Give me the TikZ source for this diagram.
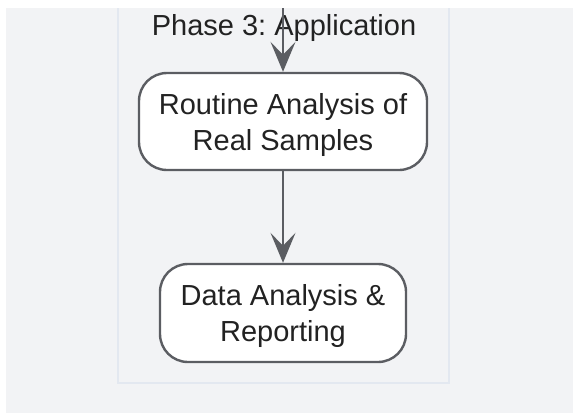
\documentclass[tikz,border=0pt]{standalone}
\usepackage{fontspec}
\setmainfont{Liberation Sans}
\usetikzlibrary{arrows.meta}
\frenchspacing
\definecolor{bggray}{HTML}{F2F3F5}
\definecolor{clusterline}{HTML}{E3E8F0}
\definecolor{edgegray}{HTML}{5B5D62}
\definecolor{txt}{HTML}{222222}
\newcommand{\lowered}[1]{\raisebox{-3.5pt}[\height][\depth]{\begin{tabular}{@{}c@{}}#1\end{tabular}}}
\tikzset{
  procnode/.style={draw=edgegray, line width=2.4pt, fill=white, rounded corners=28pt,
    text=txt, font=\fontsize{29}{36}\selectfont, inner sep=0pt},
  flow/.style={draw=edgegray, line width=2.6pt,
    -{Stealth[length=30pt,width=25pt,inset=13pt]}}
}
\begin{document}
\begin{tikzpicture}[x=1pt,y=-1pt]
\useasboundingbox (0,0) rectangle (573,413);
\fill[bggray] (6,8) rectangle (573,413);
\draw[clusterline, line width=1.5pt] (118,8) -- (118,383) -- (449,383) -- (449,8);
\node[text=txt, font=\fontsize{29}{35}\selectfont] (title) at (284,28) {Phase 3: Application};
\node[procnode, minimum width=288pt, minimum height=97pt] (n1) at (283,121.5)
  {\lowered{Routine Analysis of\\Real Samples}};
\node[procnode, minimum width=246pt, minimum height=98pt] (n2) at (283,313)
  {\lowered{Data Analysis \&\\Reporting}};
\coordinate (top) at (283,8);
\draw[flow] (top) -- (n1.north);
\draw[flow] (n1.south) -- (n2.north);
\end{tikzpicture}
\end{document}
